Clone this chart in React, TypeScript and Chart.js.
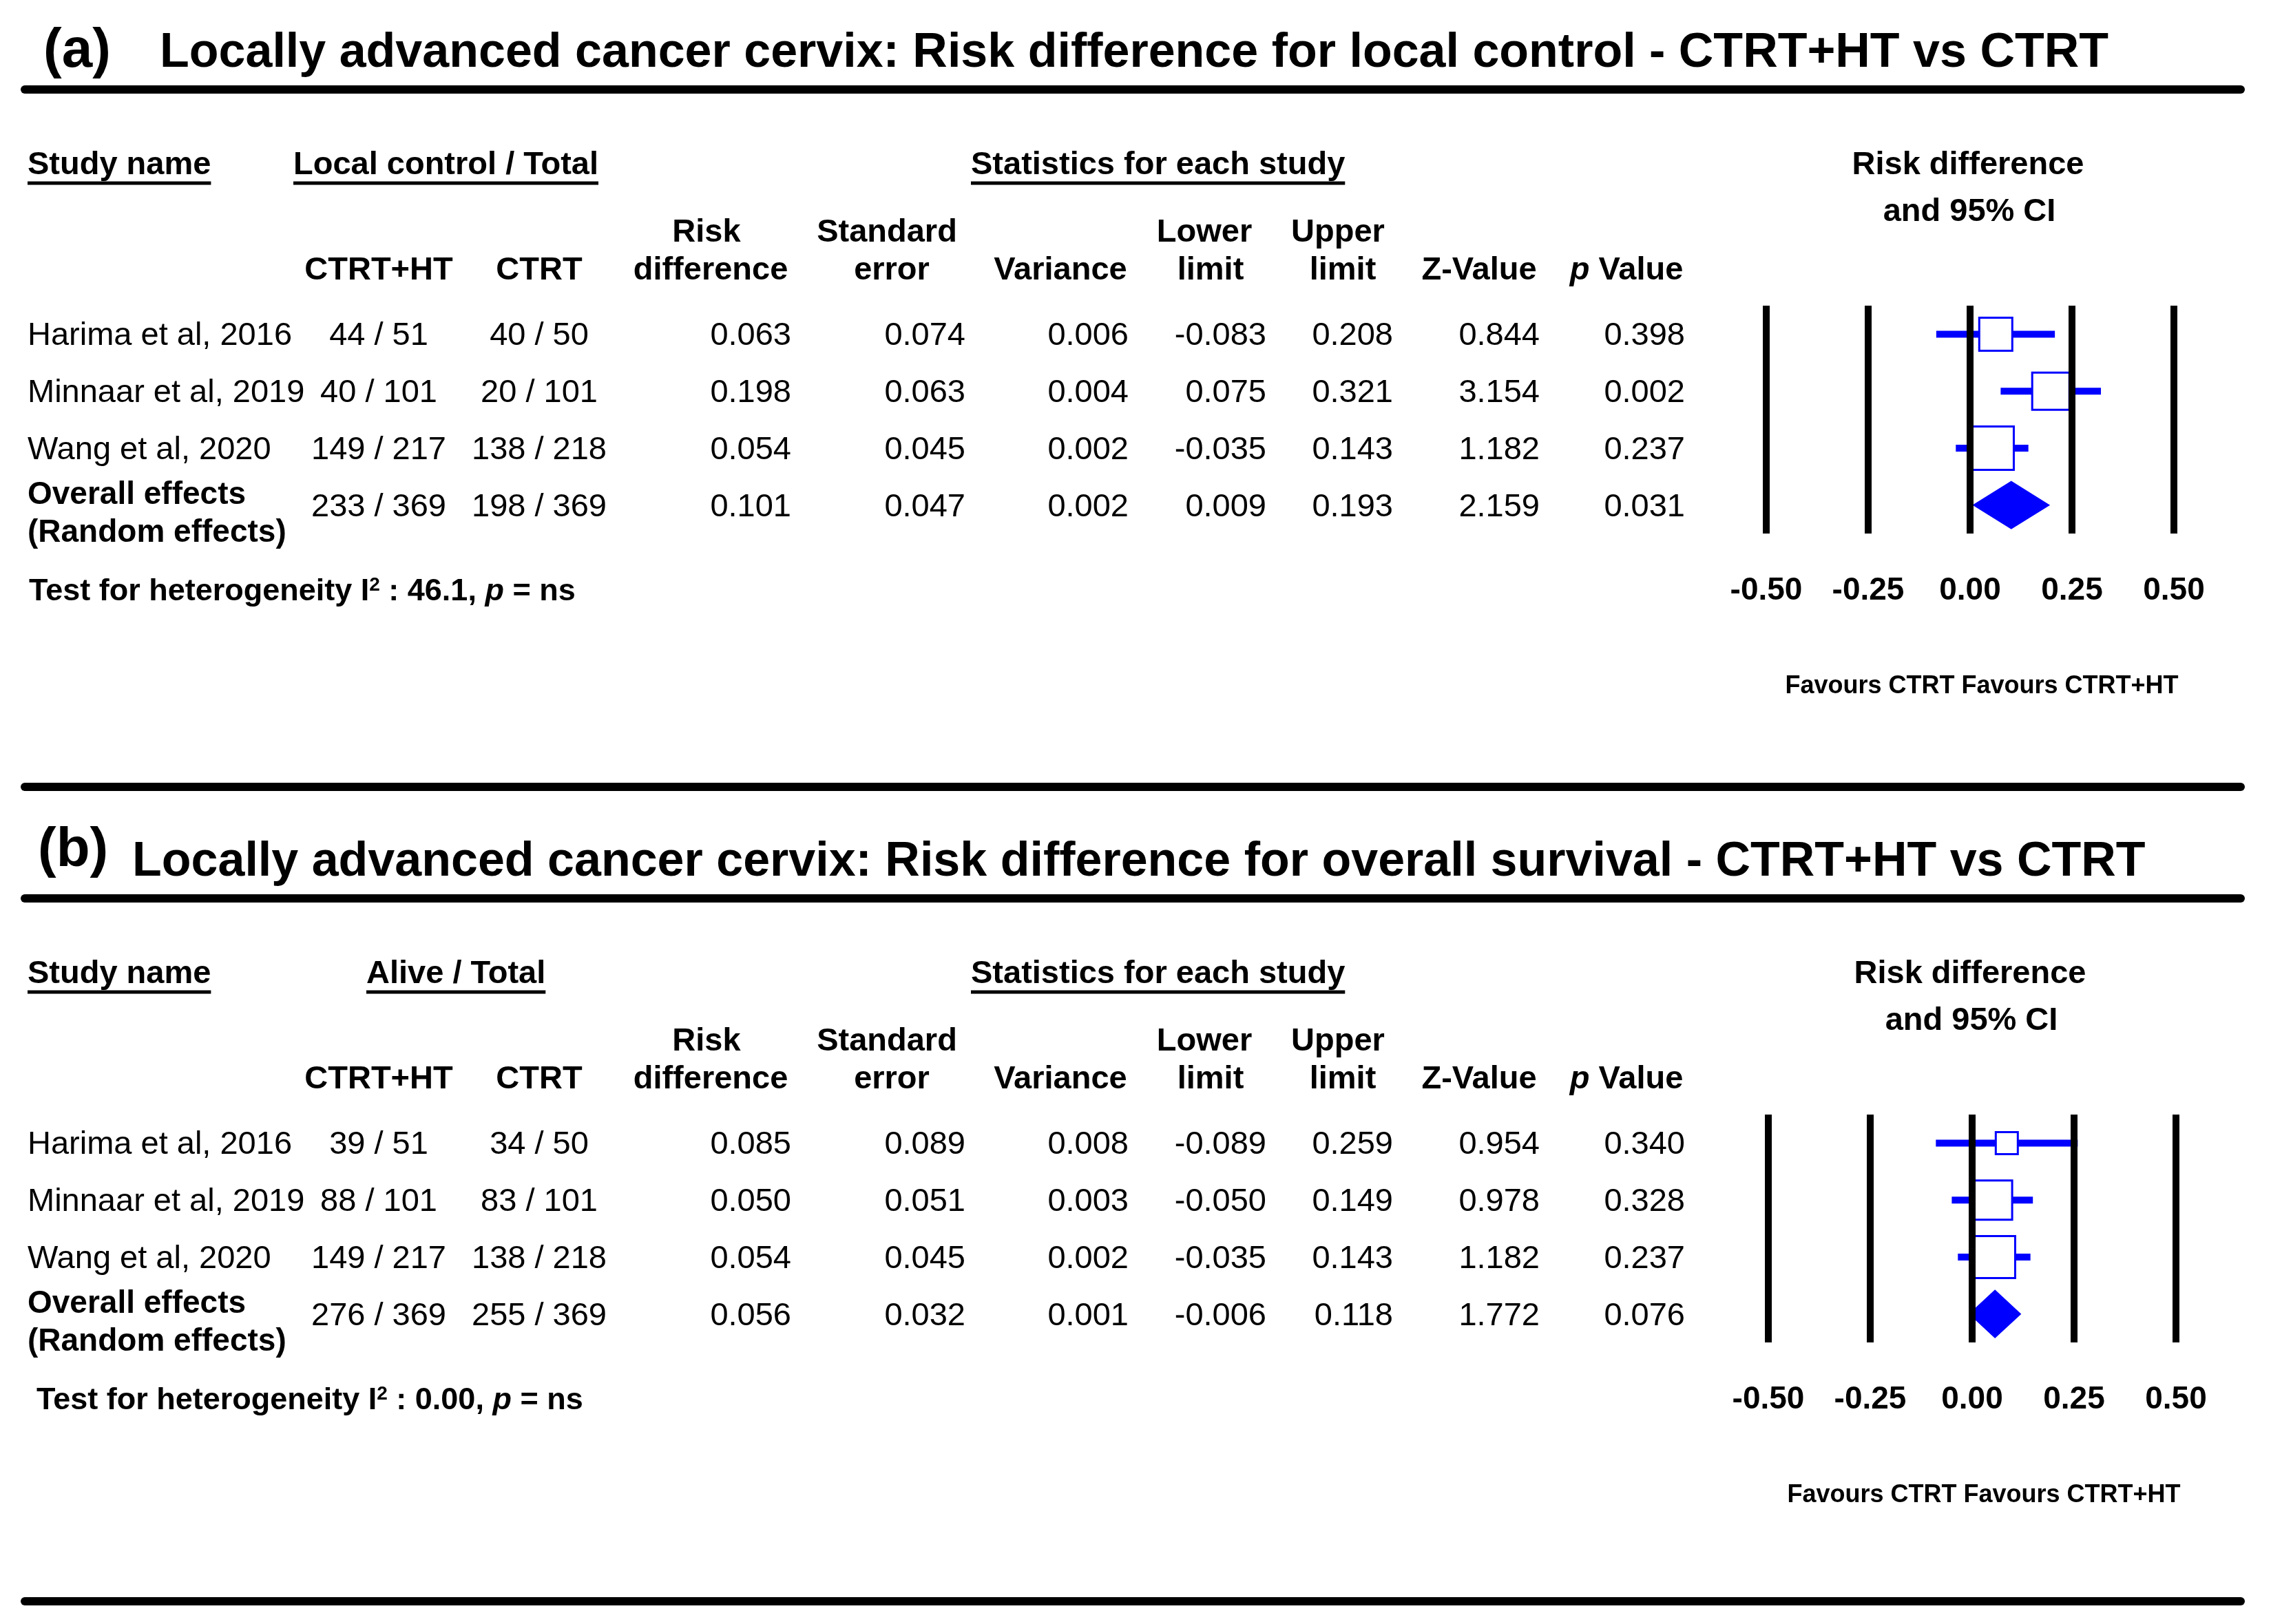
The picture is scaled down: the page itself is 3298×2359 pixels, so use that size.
import React, { useEffect, useRef } from "react";
import { Chart, registerables } from "chart.js";

Chart.register(...registerables);

// ---------------- DATA ----------------
const studies = ["Harima et al, 2016", "Minnaar et al, 2019", "Wang et al, 2020"];
const overallLabel = ["Overall effects", "(Random effects)"];
const xTicks = [-0.5, -0.25, 0, 0.25, 0.5];

// Panel (a): local control
const lcHtEvents = [44, 40, 149, 233];
const lcHtTotals = [51, 101, 217, 369];
const lcCtEvents = [40, 20, 138, 198];
const lcCtTotals = [50, 101, 218, 369];
const lcRiskDiff = [0.063, 0.198, 0.054, 0.101];
const lcStdErr = [0.074, 0.063, 0.045, 0.047];
const lcVariance = [0.006, 0.004, 0.002, 0.002];
const lcLower = [-0.083, 0.075, -0.035, 0.009];
const lcUpper = [0.208, 0.321, 0.143, 0.193];
const lcZ = [0.844, 3.154, 1.182, 2.159];
const lcP = [0.398, 0.002, 0.237, 0.031];
const lcI2 = "46.1";

// Panel (b): overall survival
const osHtEvents = [39, 88, 149, 276];
const osHtTotals = [51, 101, 217, 369];
const osCtEvents = [34, 83, 138, 255];
const osCtTotals = [50, 101, 218, 369];
const osRiskDiff = [0.085, 0.05, 0.054, 0.056];
const osStdErr = [0.089, 0.051, 0.045, 0.032];
const osVariance = [0.008, 0.003, 0.002, 0.001];
const osLower = [-0.089, -0.05, -0.035, -0.006];
const osUpper = [0.259, 0.149, 0.143, 0.118];
const osZ = [0.954, 0.978, 1.182, 1.772];
const osP = [0.34, 0.328, 0.237, 0.076];
const osI2 = "0.00";

// ---------------- STYLE ----------------
const W = 3298;
const H = 1179;
const FONT = '"Liberation Sans", Arial, Helvetica, sans-serif';
const BLUE = "#0000ff";
const AREA = { left: 2565, right: 3157, top: 444, bottom: 775 };
const X_AXIS_H = 110;
const DIAMOND_HALF = 0.41;

type PanelData = {
  tag: string; title: string; group: string;
  htEvents: number[]; htTotals: number[]; ctEvents: number[]; ctTotals: number[];
  rd: number[]; se: number[]; variance: number[]; lower: number[]; upper: number[];
  z: number[]; p: number[]; i2: string;
};
type PanelStyle = {
  dx: number; dy: number; tagX: number; tagDy: number; titleX: number;
  groupX: number; testX: number; bottomLineY: number; boxSizes: number[];
};

const panelA: PanelData = {
  tag: "(a)",
  title: "Locally advanced cancer cervix: Risk difference for local control - CTRT+HT vs CTRT",
  group: "Local control / Total",
  htEvents: lcHtEvents, htTotals: lcHtTotals, ctEvents: lcCtEvents, ctTotals: lcCtTotals,
  rd: lcRiskDiff, se: lcStdErr, variance: lcVariance, lower: lcLower, upper: lcUpper,
  z: lcZ, p: lcP, i2: lcI2,
};
const panelB: PanelData = {
  tag: "(b)",
  title: "Locally advanced cancer cervix: Risk difference for overall survival - CTRT+HT vs CTRT",
  group: "Alive / Total",
  htEvents: osHtEvents, htTotals: osHtTotals, ctEvents: osCtEvents, ctTotals: osCtTotals,
  rd: osRiskDiff, se: osStdErr, variance: osVariance, lower: osLower, upper: osUpper,
  z: osZ, p: osP, i2: osI2,
};
const styleA: PanelStyle = { dx: 0, dy: 0, tagX: 63, tagDy: 0, titleX: 232, groupX: 426, testX: 42, bottomLineY: 1143, boxSizes: [48, 54, 63] };
const styleB: PanelStyle = { dx: 3, dy: -4, tagX: 55, tagDy: -14, titleX: 192, groupX: 532, testX: 53, bottomLineY: 1147, boxSizes: [32, 57, 61] };

type Run = { t: string; size: number; weight?: string; italic?: boolean; rise?: number };

function tablePlugin(d: PanelData, st: PanelStyle) {
  return {
    id: "forestTable",
    afterDraw(chart: any) {
      const ctx: CanvasRenderingContext2D = chart.ctx;
      const ys = chart.scales.y;
      const xs = chart.scales.x;
      const dy = st.dy;
      ctx.save();
      ctx.fillStyle = "#000";
      ctx.strokeStyle = "#000";

      const setFont = (size: number, weight = "normal", italic = false) => {
        ctx.font = `${italic ? "italic " : ""}${weight} ${size}px ${FONT}`;
      };
      const text = (s: string, x: number, y: number, size: number, weight = "normal", align: CanvasTextAlign = "left") => {
        setFont(size, weight);
        ctx.textAlign = align;
        ctx.textBaseline = "middle";
        ctx.fillText(s, x, y);
        return ctx.measureText(s).width;
      };
      const runs = (list: Run[], x: number, y: number, align: "left" | "center") => {
        let total = 0;
        list.forEach((r) => { setFont(r.size, r.weight || "normal", r.italic); total += ctx.measureText(r.t).width; });
        let cx = align === "center" ? x - total / 2 : x;
        ctx.textAlign = "left";
        ctx.textBaseline = "middle";
        list.forEach((r) => {
          setFont(r.size, r.weight || "normal", r.italic);
          ctx.fillText(r.t, cx, y - (r.rise || 0));
          cx += ctx.measureText(r.t).width;
        });
      };
      const hline = (x1: number, x2: number, y: number, w: number, cap: CanvasLineCap = "round") => {
        ctx.beginPath();
        ctx.lineWidth = w;
        ctx.lineCap = cap;
        ctx.moveTo(x1, y);
        ctx.lineTo(x2, y);
        ctx.stroke();
      };
      const underlined = (s: string, x: number, y: number) => {
        const w = text(s, x, y, 47, "bold");
        hline(x, x + w, y + 26, 5, "butt");
      };

      // Title block
      ctx.textAlign = "left";
      ctx.textBaseline = "alphabetic";
      setFont(80, "bold");
      ctx.fillText(d.tag, st.tagX, 97 + dy + st.tagDy);
      setFont(70, "bold");
      ctx.fillText(d.title, st.titleX, 97 + dy);
      hline(36, 3254, 130 + dy, 12);
      hline(36, 3254, st.bottomLineY, 12);

      // Group headers
      underlined("Study name", 40, 240 + dy);
      underlined(d.group, st.groupX, 240 + dy);
      underlined("Statistics for each study", 1410, 240 + dy);
      const zeroX = xs.getPixelForValue(0);
      text("Risk difference", zeroX - 3, 240 + dy, 47, "bold", "center");
      text("and 95% CI", zeroX - 1, 308 + dy, 47, "bold", "center");

      // Column headers
      const h1 = 338 + dy;
      const h2 = 393 + dy;
      text("Risk", 1026, h1, 47, "bold", "center");
      text("Standard", 1288, h1, 47, "bold", "center");
      text("Lower", 1749, h1, 47, "bold", "center");
      text("Upper", 1943, h1, 47, "bold", "center");
      text("CTRT+HT", 550, h2, 47, "bold", "center");
      text("CTRT", 783, h2, 47, "bold", "center");
      text("difference", 1032, h2, 47, "bold", "center");
      text("error", 1295, h2, 47, "bold", "center");
      text("Variance", 1540, h2, 47, "bold", "center");
      text("limit", 1758, h2, 47, "bold", "center");
      text("limit", 1950, h2, 47, "bold", "center");
      text("Z-Value", 2148, h2, 47, "bold", "center");
      runs([{ t: "p", size: 47, weight: "bold", italic: true }, { t: " Value", size: 47, weight: "bold" }], 2362, h2, "center");

      // Rows
      const numCols: [number[], number][] = [
        [d.rd, 1149], [d.se, 1402], [d.variance, 1639], [d.lower, 1839],
        [d.upper, 2023], [d.z, 2236], [d.p, 2447],
      ];
      d.rd.forEach((_, i) => {
        const yc = ys.getPixelForValue(i) + 3;
        if (i < studies.length) {
          text(studies[i], 40, yc, 47);
        } else {
          text(overallLabel[0], 40, yc - 17, 46, "bold");
          text(overallLabel[1], 40, yc + 38, 46, "bold");
        }
        text(`${d.htEvents[i]} / ${d.htTotals[i]}`, 550, yc, 47, "normal", "center");
        text(`${d.ctEvents[i]} / ${d.ctTotals[i]}`, 783, yc, 47, "normal", "center");
        numCols.forEach(([arr, rx]) => text(arr[i].toFixed(3), rx, yc, 47, "normal", "right"));
      });

      // Heterogeneity
      runs([
        { t: "Test for heterogeneity I", size: 45, weight: "bold" },
        { t: "2", size: 28, weight: "bold", rise: 10 },
        { t: ` : ${d.i2}, `, size: 45, weight: "bold" },
        { t: "p", size: 45, weight: "bold", italic: true },
        { t: " = ns", size: 45, weight: "bold" },
      ], st.testX, 860 + dy, "left");

      // Favours label
      text("Favours CTRT Favours CTRT+HT", 2878 + st.dx, 997 + dy, 36, "bold", "center");
      ctx.restore();
    },
  };
}

function makeChart(canvas: HTMLCanvasElement, d: PanelData, st: PanelStyle) {
  const k = studies.length;
  const ciSets = studies.map((_, i) => ({
    label: "ci" + i,
    data: [{ x: d.lower[i], y: i }, { x: d.upper[i], y: i }],
    showLine: true,
    borderColor: BLUE,
    backgroundColor: BLUE,
    borderWidth: 10,
    borderCapStyle: "butt",
    pointRadius: 0,
    order: 2,
  }));
  const boxes = {
    label: "boxes",
    data: studies.map((_, i) => ({ x: d.rd[i], y: i })),
    showLine: false,
    pointStyle: "rect",
    pointRadius: (c: any) => st.boxSizes[c.dataIndex] / Math.SQRT2,
    pointBackgroundColor: "#ffffff",
    pointBorderColor: BLUE,
    pointBorderWidth: 3,
    backgroundColor: "#ffffff",
    borderColor: BLUE,
    order: 0,
  };
  const diamond = {
    label: "overall",
    data: [
      { x: d.lower[k], y: k },
      { x: d.rd[k], y: k - DIAMOND_HALF },
      { x: d.upper[k], y: k },
      { x: d.rd[k], y: k + DIAMOND_HALF },
      { x: d.lower[k], y: k },
    ],
    showLine: true,
    fill: "shape",
    tension: 0,
    borderColor: BLUE,
    backgroundColor: BLUE,
    borderWidth: 2,
    pointRadius: 0,
    order: 1,
  };

  return new Chart(canvas, {
    type: "scatter",
    data: { datasets: [boxes, diamond, ...ciSets] as any },
    options: {
      animation: false,
      responsive: false,
      maintainAspectRatio: false,
      devicePixelRatio: 1,
      events: [],
      layout: {
        padding: {
          left: AREA.left + st.dx,
          right: W - AREA.right - st.dx,
          top: AREA.top + st.dy,
          bottom: H - (AREA.bottom + st.dy) - X_AXIS_H,
        },
      },
      plugins: { legend: { display: false }, tooltip: { enabled: false }, title: { display: false } },
      scales: {
        x: {
          type: "linear",
          min: xTicks[0],
          max: xTicks[xTicks.length - 1],
          afterBuildTicks: (s: any) => { s.ticks = xTicks.map((v) => ({ value: v })); },
          afterFit: (s: any) => { s.height = X_AXIS_H; },
          grid: { color: "#000", lineWidth: 10, drawTicks: false, z: 1 },
          border: { display: false },
          ticks: {
            color: "#000",
            padding: 56,
            maxRotation: 0,
            autoSkip: false,
            font: { family: FONT, size: 46, weight: "bold" },
            callback: (v: any) => Number(v).toFixed(2),
          },
        },
        y: { type: "linear", display: false, min: -0.5, max: 3.5, reverse: true },
      },
    } as any,
    plugins: [tablePlugin(d, st)],
  });
}

function Panel({ d, st }: { d: PanelData; st: PanelStyle }) {
  const ref = useRef<HTMLCanvasElement | null>(null);
  useEffect(() => {
    if (!ref.current) return;
    const chart = makeChart(ref.current, d, st);
    return () => chart.destroy();
  }, [d, st]);
  return <canvas ref={ref} width={W} height={H} style={{ display: "block", width: W, height: H }} />;
}

export default function App() {
  return (
    <div style={{ position: "absolute", left: 0, top: 0, width: W, background: "#ffffff" }}>
      <Panel d={panelA} st={styleA} />
      <Panel d={panelB} st={styleB} />
    </div>
  );
}
